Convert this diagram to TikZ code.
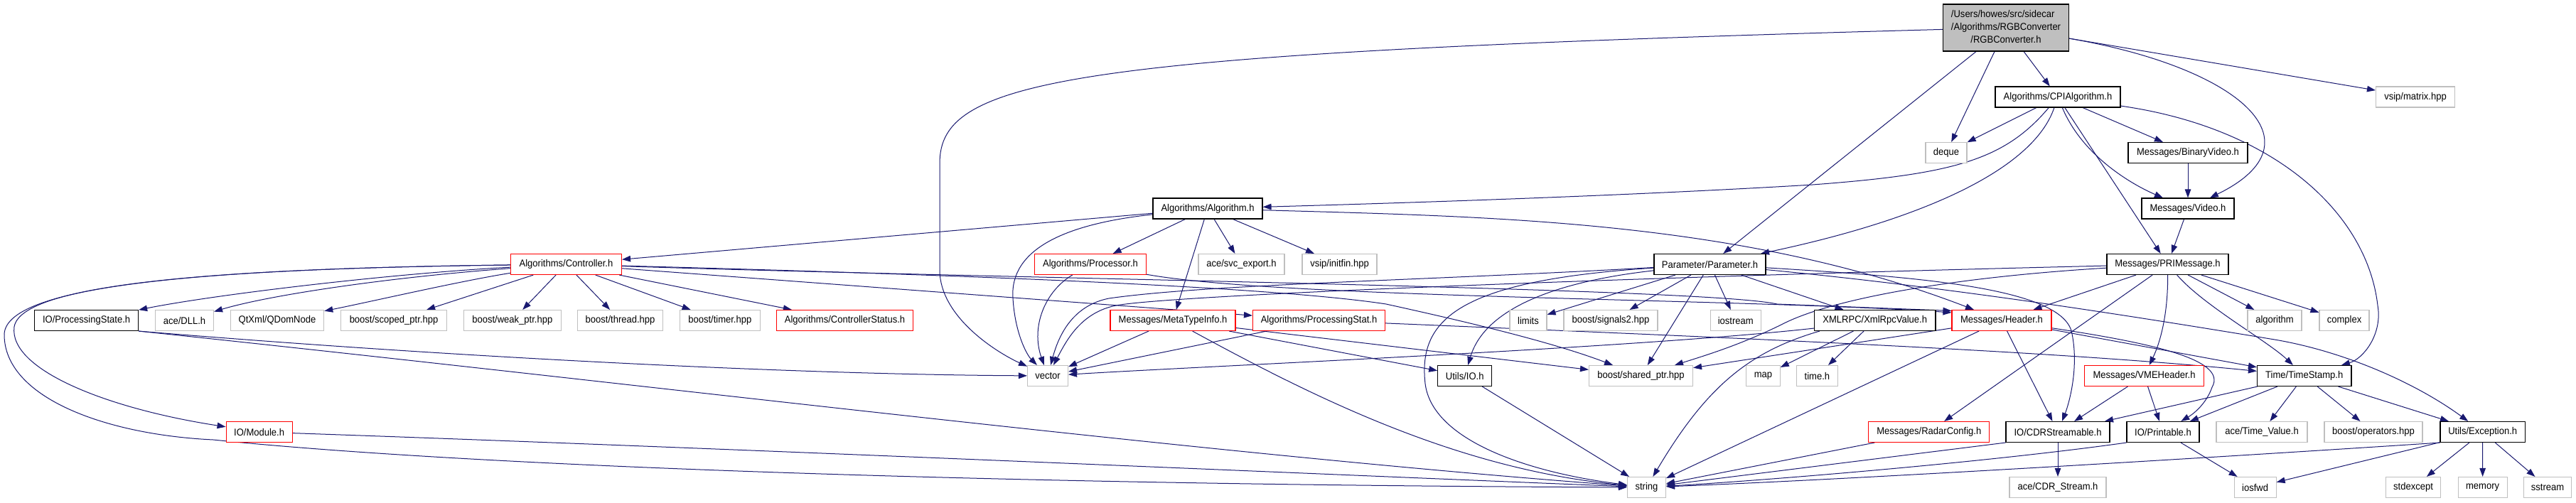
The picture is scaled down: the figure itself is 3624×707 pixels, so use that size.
\documentclass[tikz,border=0pt]{standalone}
\usepackage{fontspec}
\newfontfamily\dxfont{Liberation Sans}[FakeStretch=0.93]
\usetikzlibrary{arrows.meta}
\pgfdeclarelayer{bgzero}
\pgfdeclarelayer{edges}
\pgfsetlayers{bgzero,edges,main}
\definecolor{edgec}{HTML}{191970}
\definecolor{gbrd}{HTML}{BFBFBF}
\definecolor{mfill}{HTML}{BFBFBF}
\tikzset{
  nbase/.style={rectangle, minimum height=29pt, inner xsep=2pt, inner ysep=0pt,
    font=\dxfont\fontsize{14}{18.3}\selectfont, fill=white, line width=1.1pt},
  gbox/.style={nbase, draw=gbrd, line width=1.1pt},
  bbox/.style={nbase, draw=black},
  rbox/.style={nbase, draw=red},
  mainbox/.style={nbase, draw=black, fill=mfill, minimum width=177pt, minimum height=66pt},
  link/.style={draw=edgec, line width=1pt, -{Triangle[length=12pt,width=8.5pt]}},
}
\begin{document}
\begin{tikzpicture}[x=1pt,y=-1pt]
\begin{pgfonlayer}{bgzero}
\fill[white] (0,0) rectangle (3624,707);
\end{pgfonlayer}
\useasboundingbox (0,0) rectangle (3624,707);

% ---- nodes ----
\node[mainbox] (main) at (2822,39) {\begin{tabular}{@{}l@{}}/Users/howes/src/sidecar\\/Algorithms/RGBConverter\\\multicolumn{1}{@{}c@{}}{/RGBConverter.h}\end{tabular}};
\node[bbox, minimum width=176pt] (cpi) at (2895,136.5) {Algorithms/CPIAlgorithm.h};
\node[gbox, minimum width=111pt] (matrix) at (3398,136.5) {vsip/matrix.hpp};
\node[gbox, minimum width=58pt] (deque) at (2738,215) {deque};
\node[bbox, minimum width=168pt] (binvid) at (3078,215) {Messages/BinaryVideo.h};
\node[bbox, minimum width=154pt] (algo) at (1699,293.5) {Algorithms/Algorithm.h};
\node[bbox, minimum width=130pt] (video) at (3078,293.5) {Messages/Video.h};

\node[rbox, minimum width=156pt] (ctrl) at (796.5,372) {Algorithms/Controller.h};
\node[rbox, minimum width=157pt] (proc) at (1534,372) {Algorithms/Processor.h};
\node[gbox, minimum width=121pt] (svc) at (1746.5,372) {ace/svc\_export.h};
\node[gbox, minimum width=105pt] (initfin) at (1884.5,372) {vsip/initfin.hpp};
\node[bbox, minimum width=157pt] (param) at (2405.5,372) {Parameter/Parameter.h};
\node[bbox, minimum width=171pt] (pri) at (3049.5,372) {Messages/PRIMessage.h};

\node[bbox, minimum width=146pt] (pstate) at (121.6,451) {IO/ProcessingState.h};
\node[gbox, minimum width=82pt] (dll) at (259.5,451) {ace/DLL.h};
\node[gbox, minimum width=131.5pt] (qdom) at (390,451) {QtXml/QDomNode};
\node[gbox, minimum width=149pt] (scoped) at (554,451) {boost/scoped\_ptr.hpp};
\node[gbox, minimum width=136.6pt] (weak) at (720.8,451) {boost/weak\_ptr.hpp};
\node[gbox, minimum width=120pt] (thread) at (872.6,451) {boost/thread.hpp};
\node[gbox, minimum width=113pt] (timer) at (1012.8,451) {boost/timer.hpp};
\node[rbox, minimum width=192.6pt] (cstatus) at (1188.5,451) {Algorithms/ControllerStatus.h};
\node[rbox, minimum width=176pt] (meta) at (1650,451) {Messages/MetaTypeInfo.h};
\node[rbox, minimum width=186pt] (pstat) at (1855.5,451) {Algorithms/ProcessingStat.h};
\node[gbox, minimum width=52pt] (limits) at (2150,451) {limits};
\node[gbox, minimum width=132pt] (signals) at (2266,451) {boost/signals2.hpp};
\node[gbox, minimum width=71pt] (iostream) at (2441.7,451) {iostream};
\node[bbox, minimum width=170.5pt] (xmlrpc) at (2637.7,451) {XMLRPC/XmlRpcValue.h};
\node[rbox, minimum width=140pt] (header) at (2816,451) {Messages/Header.h};
\node[gbox, minimum width=76pt] (algorithm) at (3200,451) {algorithm};
\node[gbox, minimum width=70pt] (complex) at (3298,451) {complex};

\node[gbox, minimum width=57pt] (vector) at (1474,529) {vector};
\node[bbox, minimum width=76pt] (utilsio) at (2060.7,529) {Utils/IO.h};
\node[gbox, minimum width=146pt] (shared) at (2308.5,529) {boost/shared\_ptr.hpp};
\node[gbox, minimum width=47.5pt] (map) at (2480.5,529) {map};
\node[gbox, minimum width=57.6pt] (timeh) at (2556.4,529) {time.h};
\node[rbox, minimum width=168pt] (vme) at (3016.5,529) {Messages/VMEHeader.h};
\node[bbox, minimum width=132.5pt] (tstamp) at (3241.7,529) {Time/TimeStamp.h};

\node[rbox, minimum width=93pt] (module) at (364.6,608) {IO/Module.h};
\node[rbox, minimum width=170pt] (radar) at (2713.8,608) {Messages/RadarConfig.h};
\node[bbox, minimum width=146pt] (cdr) at (2895,608) {IO/CDRStreamable.h};
\node[bbox, minimum width=102pt] (printable) at (3043,608) {IO/Printable.h};
\node[gbox, minimum width=128pt] (tvalue) at (3182,608) {ace/Time\_Value.h};
\node[gbox, minimum width=138pt] (operators) at (3339,608) {boost/operators.hpp};
\node[bbox, minimum width=119.4pt] (exception) at (3492.7,608) {Utils/Exception.h};

\node[gbox, minimum width=54pt] (string) at (2316.5,686) {string};
\node[gbox, minimum width=136pt] (cdrstream) at (2895,686) {ace/CDR\_Stream.h};
\node[gbox, minimum width=59pt] (iosfwd) at (3172.6,686) {iosfwd};
\node[gbox, minimum width=77pt] (stdexcept) at (3395,686) {stdexcept};
\node[gbox, minimum width=69pt] (memory) at (3492.6,686) {memory};
\node[gbox, minimum width=67.6pt] (sstream) at (3584,686) {sstream};

% ---- edges ----
\begin{pgfonlayer}{edges}
% RGBConverter.h
\draw[link] (main) .. controls (1500,75) and (1322,110) .. (1322,230) -- (1322,380) .. controls (1322,445) and (1400,495) .. (vector);
\draw[link] (main) -- (deque);
\draw[link] (main) -- (cpi);
\draw[link] (main) -- (matrix);
\draw[link] (main) .. controls (3150,95) and (3270,200) .. (video);
\draw[link] (main) -- (param);
% CPIAlgorithm.h
\draw[link] (cpi) -- (deque);
\draw[link] (cpi) .. controls (2820,225) and (2750,245) .. (2550,260) .. controls (2300,275) and (2000,285) .. (algo);
\draw[link] (cpi) .. controls (2860,240) and (2700,310) .. (param);
\draw[link] (cpi) -- (binvid);
\draw[link] (cpi) .. controls (2930,220) and (3000,260) .. (video);
\draw[link] (cpi) -- (pri);
\draw[link] (cpi) .. controls (3200,180) and (3330,300) .. (3345,430) .. controls (3352,470) and (3325,505) .. (tstamp);
% Video
\draw[link] (binvid) -- (video);
\draw[link] (video) -- (pri);
% Algorithm.h
\draw[link] (algo) -- (ctrl);
\draw[link] (algo) .. controls (1500,315) and (1420,350) .. (1425,420) .. controls (1428,470) and (1445,500) .. (vector);
\draw[link] (algo) -- (proc);
\draw[link] (algo) -- (meta);
\draw[link] (algo) -- (svc);
\draw[link] (algo) -- (initfin);
\draw[link] (algo) .. controls (2100,305) and (2450,310) .. (header);
% Controller.h
\draw[link] (ctrl) .. controls (300,378) and (10,400) .. (6,470) .. controls (5,560) and (150,612) .. (300,619) .. controls (700,660) and (1500,683) .. (string);
\draw[link] (ctrl) .. controls (300,378) and (30,400) .. (20,460) .. controls (12,520) and (150,575) .. (module);
\draw[link] (ctrl) .. controls (550,385) and (300,415) .. (pstate);
\draw[link] (ctrl) .. controls (550,390) and (380,415) .. (dll);
\draw[link] (ctrl) .. controls (650,395) and (520,425) .. (qdom);
\draw[link] (ctrl) -- (scoped);
\draw[link] (ctrl) -- (weak);
\draw[link] (ctrl) -- (thread);
\draw[link] (ctrl) -- (timer);
\draw[link] (ctrl) -- (cstatus);
\draw[link] (ctrl) -- (pstat);
\draw[link] (ctrl) .. controls (1400,388) and (1800,405) .. (1950,428) .. controls (2050,450) and (2180,480) .. (shared);
\draw[link] (ctrl) .. controls (1400,392) and (2400,405) .. (2500,428) -- ([yshift=-1.5pt]header.north west);
% Processor.h
\draw[link] (proc) .. controls (1470,410) and (1450,460) .. (vector);
\draw[link] (proc) .. controls (1800,420) and (2450,420) .. ([yshift=-4pt]header.north west);
% ProcessingState.h
\draw[link] (pstate.south east) .. controls (600,500) and (1100,527) .. (vector);
\draw[link] (pstate.south east) .. controls (900,540) and (1700,640) .. (string);
% Module.h
\draw[link] (module) .. controls (1000,630) and (1800,665) .. (string);
% MetaTypeInfo.h
\draw[link] (meta) -- (vector);
\draw[link] (meta) .. controls (1850,560) and (2050,660) .. (string);
\draw[link] (meta) -- (utilsio);
\draw[link] (meta) -- (shared);
% ProcessingStat.h
\draw[link] (pstat) -- (vector);
\draw[link] (pstat) .. controls (2500,478) and (2900,495) .. (tstamp);
% Parameter.h
\draw[link] (param) .. controls (2000,395) and (1700,400) .. (1560,420) .. controls (1510,430) and (1490,470) .. (vector);
\draw[link] (param) .. controls (2200,395) and (2090,430) .. (utilsio);
\draw[link] (param) .. controls (2050,395) and (1995,450) .. (2005,540) .. controls (2015,620) and (2150,665) .. (string);
\draw[link] (param) -- (limits);
\draw[link] (param) -- (signals);
\draw[link] (param) -- (shared);
\draw[link] (param) -- (iostream);
\draw[link] (param) -- (xmlrpc);
\draw[link] (param) .. controls (2700,390) and (2905,405) .. (2915,470) .. controls (2925,520) and (2910,570) .. (cdr);
\draw[link] (param) .. controls (2750,405) and (3000,445) .. (3200,478) .. controls (3300,495) and (3400,540) .. (exception);
% PRIMessage.h
\draw[link] (pri) -- (header);
\draw[link] (pri) -- (radar);
\draw[link] (pri) -- (algorithm);
\draw[link] (pri) -- (complex);
\draw[link] (pri) .. controls (3100,430) and (3190,480) .. (tstamp);
\draw[link] (pri) .. controls (3050,440) and (3040,480) .. (vme);
\draw[link] (pri) .. controls (2300,390) and (1650,415) .. (1570,430) .. controls (1520,440) and (1500,480) .. (vector);
\draw[link] (pri) .. controls (2750,390) and (2580,420) .. (2510,455) .. controls (2450,485) and (2400,500) .. (shared);
% XmlRpcValue.h
\draw[link] ([yshift=4pt]xmlrpc.south west) .. controls (2300,490) and (1700,515) .. (vector);
\draw[link] (xmlrpc) -- (map);
\draw[link] (xmlrpc) -- (timeh);
\draw[link] ([xshift=8pt]xmlrpc.south west) .. controls (2460,495) and (2400,545) .. (string);
% Header.h
\draw[link] (header) -- (tstamp);
\draw[link] (header) .. controls (3020,482) and (3135,505) .. (3112,545) .. controls (3105,565) and (3090,580) .. (printable);
\draw[link] (header) -- (cdr);
\draw[link] (header) -- (string);
\draw[link] (header) -- (shared);
% VMEHeader.h
\draw[link] (vme) -- (cdr);
\draw[link] (vme) -- (printable);
% TimeStamp.h
\draw[link] (tstamp) -- (cdr);
\draw[link] (tstamp) -- (printable);
\draw[link] (tstamp) -- (tvalue);
\draw[link] (tstamp) -- (operators);
\draw[link] (tstamp) -- (exception);
% Exception.h
\draw[link] (exception) -- (stdexcept);
\draw[link] (exception) -- (memory);
\draw[link] (exception) -- (sstream);
\draw[link] (exception) -- (iosfwd);
\draw[link] (exception.south west) .. controls (3100,645) and (2600,675) .. (string);
% Printable.h
\draw[link] (printable) -- (iosfwd);
\draw[link] (printable.south west) .. controls (2800,650) and (2500,675) .. (string);
% CDRStreamable.h
\draw[link] (cdr.south west) -- (string);
\draw[link] (cdr) -- (cdrstream);
% others
\draw[link] (radar) -- (string);
\draw[link] (utilsio) -- (string);
\end{pgfonlayer}
\end{tikzpicture}
\end{document}
